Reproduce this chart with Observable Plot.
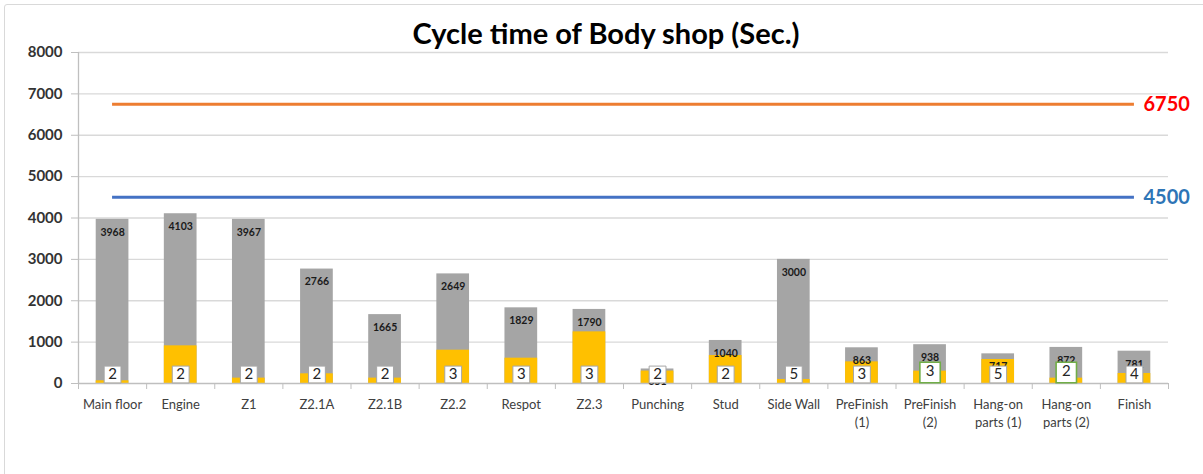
<!DOCTYPE html>
<html>
<head>
<meta charset="utf-8">
<script src="https://cdn.jsdelivr.net/npm/d3@7"></script>
<script src="https://cdn.jsdelivr.net/npm/@observablehq/plot@0.6"></script>
<style>
  body { margin: 0; background: #fff; font-family: Lato, "Open Sans", sans-serif; }
  #wrap { position: relative; width: 1203px; height: 474px; overflow: hidden; }
  #frame { position: absolute; left: 4px; top: 4px; width: 1205px; height: 476px; border: 1px solid #d9d9d9; border-radius: 3px; box-sizing: border-box; }
  #title { position: absolute; left: 0; width: 1212px; top: 16px; text-align: center; font-weight: bold; font-size: 29px; color: #000; line-height: 34px; }
  #chart { position: absolute; left: 0; top: 0; }
</style>
</head>
<body>
<div id="wrap">
  <div id="frame"></div>
  <div id="chart"></div>
  <div id="title">Cycle time of Body shop (Sec.)</div>
</div>
<script>
// ---- data ----
const categories = ["Main floor", "Engine", "Z1", "Z2.1A", "Z2.1B", "Z2.2", "Respot", "Z2.3",
  "Punching", "Stud", "Side Wall", "PreFinish\n(1)", "PreFinish\n(2)", "Hang-on\nparts (1)",
  "Hang-on\nparts (2)", "Finish"];
const totals = [3968, 4103, 3967, 2766, 1665, 2649, 1829, 1790, 351, 1040, 3000, 863, 938, 717, 872, 781];
const yellowValues = [65, 910, 130, 234, 130, 805, 612, 1248, 300, 676, 97, 523, 298, 580, 129, 242];
const counts = [2, 2, 2, 2, 2, 3, 3, 3, 2, 2, 5, 3, 3, 5, 2, 4];
const highlighted = ["PreFinish\n(2)", "Hang-on\nparts (2)"];
const targets = [6750, 4500];
const targetLabels = ["6750", "4500"];
const yTicks = [0, 1000, 2000, 3000, 4000, 5000, 6000, 7000, 8000];

const rows = categories.map((c, i) => ({
  i, category: c, total: totals[i], yellow: yellowValues[i], count: counts[i],
  hi: highlighted.includes(c)
}));
const plain = rows.filter(d => !d.hi);
const hiRows = rows.filter(d => d.hi);
const half = 0.24;
const targetColors = ["#ed7d31", "#4472c4"];
const targetTextColors = ["#ff0000", "#2e75b6"];
const targetRows = targets.map((v, k) => ({v, label: targetLabels[k], k}));

const chart = Plot.plot({
  width: 1203,
  height: 474,
  marginLeft: 78,
  marginRight: 35,
  marginTop: 52,
  marginBottom: 91,
  style: { fontFamily: "Lato, 'Open Sans', sans-serif", background: "transparent", overflow: "visible" },
  x: { type: "linear", domain: [-0.5, categories.length - 0.5], axis: null, label: null },
  y: { domain: [0, 8000], axis: null, label: null },
  marks: [
    Plot.gridY(yTicks.slice(1), { stroke: "#d9d9d9", strokeOpacity: 1, strokeWidth: 1.3 }),
    Plot.rectY(rows, { x1: d => d.i - half, x2: d => d.i + half, y: "total", fill: "#a5a5a5" }),
    Plot.rectY(rows, { x1: d => d.i - half, x2: d => d.i + half, y: "yellow", fill: "#ffc000" }),
    Plot.ruleY(targetRows, { y: "v", x1: 0, x2: categories.length - 1, stroke: d => targetColors[d.k], strokeWidth: 3 }),
    Plot.text(targetRows, { y: "v", x: categories.length - 1, dx: 9, text: "label", textAnchor: "start",
      fill: d => targetTextColors[d.k], fontSize: 20, fontWeight: "bold" }),
    Plot.ruleX([-0.5], { stroke: "#bfbfbf", strokeWidth: 1.3 }),
    Plot.ruleY([0], { stroke: "#bfbfbf", strokeWidth: 1.3 }),
    Plot.axisY({ ticks: yTicks, tickSize: 7, tickPadding: 9, fontSize: 15, fontWeight: "bold",
      stroke: "#bfbfbf", fill: "#333", label: null, tickFormat: d => String(d) }),
    Plot.axisX({ ticks: d3.range(-0.5, categories.length, 1), tickSize: 6, stroke: "#bfbfbf",
      label: null, tickFormat: () => "" }),
    Plot.axisX({ ticks: d3.range(categories.length), tickSize: 0, tickPadding: 13, fontSize: 13,
      lineHeight: 1.35, fill: "#404040", label: null, tickFormat: i => categories[i] }),
    Plot.text(rows, { x: "i", y: "total", dy: 13, text: d => String(d.total), fontSize: 10.5,
      fontWeight: "bold", fill: "#1a1a1a" }),
    Plot.dot(plain, { x: "i", y: () => 0, dy: -9, symbol: "square", r: 9.5,
      fill: "#fff", stroke: "#a6a6a6", strokeWidth: 1 }),
    Plot.dot(hiRows, { x: "i", y: () => 0, dy: -11, symbol: "square", r: 11.5,
      fill: "#fff", stroke: "#70ad47", strokeWidth: 1.6 }),
    Plot.text(plain, { x: "i", y: () => 0, dy: -9, text: d => String(d.count),
      fontSize: 15, fill: "#262626" }),
    Plot.text(hiRows, { x: "i", y: () => 0, dy: -12, text: d => String(d.count),
      fontSize: 15, fill: "#262626" })
  ]
});
document.getElementById("chart").appendChild(chart);
</script>
</body>
</html>
